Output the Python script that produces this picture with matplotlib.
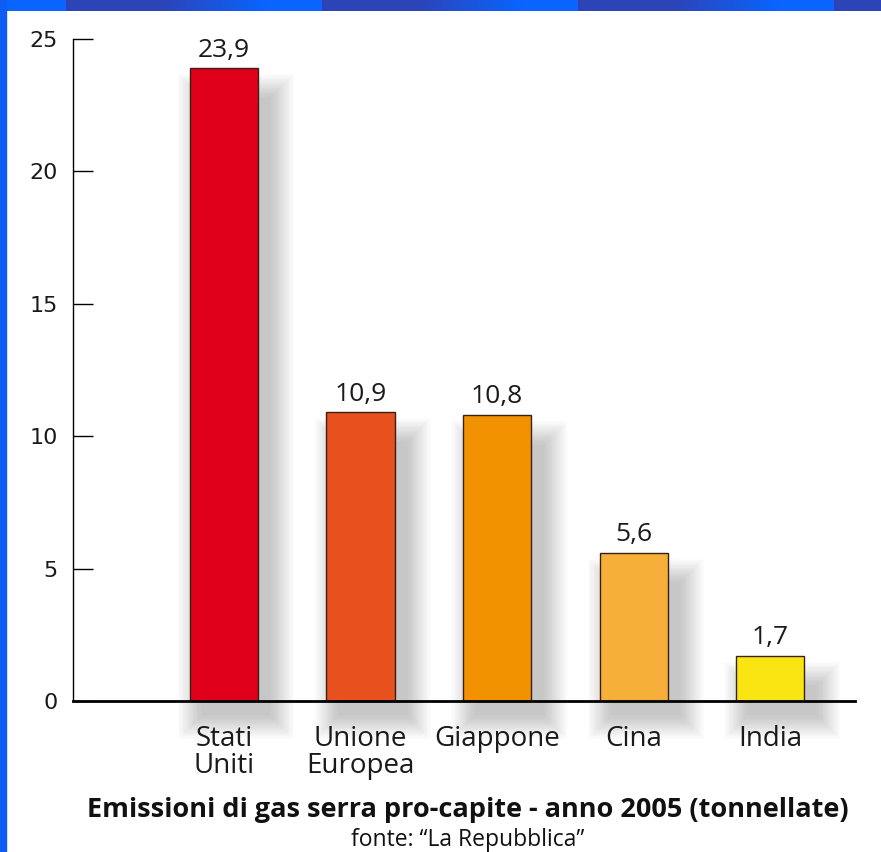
import numpy as np
import matplotlib
matplotlib.use('Agg')
import matplotlib.pyplot as plt
from matplotlib.patches import Rectangle

# Dati: emissioni pro-capite 2005 (tonnellate)
paesi = ['Stati\nUniti', 'Unione\nEuropea', 'Giappone', 'Cina', 'India']
valori = [23.9, 10.9, 10.8, 5.6, 1.7]
etichette = ['23,9', '10,9', '10,8', '5,6', '1,7']
colori = ['#e0001b', '#e8501e', '#f39200', '#f6b03a', '#f9e511']

W, H = 881, 852
fig = plt.figure(figsize=(W / 100, H / 100), dpi=100)
fig.patch.set_facecolor('white')

# cornice blu (strisce in alto e a sinistra)
dark = np.array([0x2b, 0x45, 0xb8]) / 255
bright = np.array([0x0a, 0x64, 0xff]) / 255
strip = np.zeros((1, W, 3))
for px in range(W):
    ph = (px - 66) % 256
    if px < 66 or ph >= 198:
        t = 1.0
    elif ph < 97:
        t = 0.0
    else:
        t = (ph - 97) / 101
    strip[0, px] = dark * (1 - t) + bright * t
ax_top = fig.add_axes([0, 1 - 11 / H, 1, 11 / H])
ax_top.imshow(strip, aspect='auto')
ax_top.axis('off')
fig.add_artist(Rectangle((0, 0), 6 / W, 1, transform=fig.transFigure,
                         color='#0f5cf5', zorder=5))

# assi
ax = fig.add_axes([73 / W, 1 - 701 / H, (855 - 73) / W, (701 - 39) / H])
x = np.arange(len(paesi))
larg = 0.5
ax.set_xlim(-1.106, 4.62)
ax.set_ylim(0, 25)

# ombre sfumate
pxx = 136.5  # pixel per unita' x
pxy = 26.48  # pixel per unita' y
for xi, v in zip(x, valori):
    for s in np.linspace(0, 24, 20):
        dx, dy = s / pxx, s / pxy
        x0 = xi - larg / 2 + 12 / pxx - dx
        y0 = -14 / pxy - dy
        top = max(v - 30 / pxy, 0) + dy
        r = Rectangle((x0, y0), larg + 2 * dx, top - y0,
                      facecolor='#6a6a6a', edgecolor='none', alpha=0.018,
                      clip_on=False, zorder=1)
        ax.add_patch(r)

barre = ax.bar(x, valori, width=larg, color=colori, edgecolor='#3a2010',
               linewidth=1.0, zorder=3)
for xi, v, e in zip(x, valori, etichette):
    ax.annotate(e, (xi, v), xytext=(0, 4), textcoords='offset points',
                ha='center', va='bottom', fontsize=19, family='Open Sans',
                color='#1a1a1a')

for sp in ['top', 'right']:
    ax.spines[sp].set_visible(False)
ax.spines['left'].set_linewidth(1.0)
ax.spines['bottom'].set_linewidth(2.0)
ax.spines['bottom'].set_zorder(4)
ax.set_yticks([0, 5, 10, 15, 20, 25])
ax.tick_params(axis='y', direction='in', length=14.4, width=1.0, pad=11,
               labelsize=16, labelcolor='#1a1a1a')
ax.set_xticks(x)
ax.set_xticklabels(paesi, fontsize=20, family='Open Sans', linespacing=0.95,
                   color='#1a1a1a')
ax.tick_params(axis='x', length=0, pad=17)
ax.patch.set_alpha(0)

fig.text(468 / W, 1 - 810 / H,
         'Emissioni di gas serra pro-capite - anno 2005 (tonnellate)',
         ha='center', va='center', fontsize=19.5, fontweight='bold',
         family='Open Sans', color='#111111')
fig.text(468 / W, 1 - 840 / H, 'fonte: \u201cLa Repubblica\u201d',
         ha='center', va='center', fontsize=16.5, family='Open Sans',
         color='#111111')

fig.savefig('out.png', dpi=100)
